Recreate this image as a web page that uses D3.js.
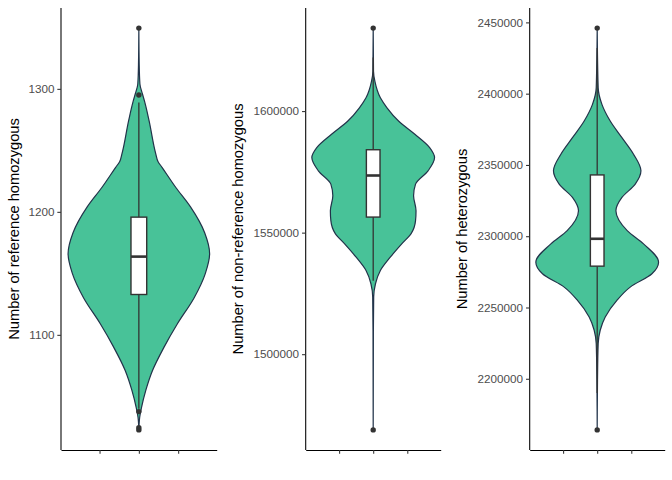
<!DOCTYPE html>
<html>
<head>
<meta charset="utf-8">
<script src="https://cdn.jsdelivr.net/npm/d3@7"></script>
<style>
  html, body { margin: 0; padding: 0; background: #ffffff; }
  svg { display: block; }
</style>
</head>
<body>
<svg id="chart" width="672" height="480"></svg>
<script>
// ---------------- data ----------------
const titles = ["Number of reference homozygous", "Number of non-reference homozygous", "Number of heterozygous"];

const refTicks = [1100, 1200, 1300];
const nonrefTicks = [1500000, 1550000, 1600000];
const hetTicks = [2200000, 2250000, 2300000, 2350000, 2400000, 2450000];

const xTicks = [-0.25, 0, 0.25];

// violin outline: value and relative density (1 = widest)
const refProfileValues = [1022.7, 1033, 1041, 1055, 1071, 1090, 1109, 1130, 1150, 1166, 1183, 1204, 1220, 1236, 1241, 1247, 1274, 1290, 1296, 1304, 1320, 1349.4];
const refProfileDensity = [0, 0.012, 0.038, 0.099, 0.193, 0.356, 0.545, 0.78, 0.94, 1.0, 0.93, 0.73, 0.52, 0.33, 0.27, 0.24, 0.145, 0.08, 0.05, 0.015, 0.005, 0];

const nonrefProfileValues = [1468852, 1509836, 1523484, 1528975, 1534426, 1539877, 1545369, 1549590, 1554918, 1559016, 1565164, 1569959, 1575410, 1580861, 1584959, 1590451, 1595902, 1601352, 1605451, 1612295, 1616393, 1634139];
const nonrefProfileDensity = [0, 0.003, 0.008, 0.037, 0.117, 0.278, 0.465, 0.618, 0.690, 0.698, 0.658, 0.690, 0.894, 1.0, 0.920, 0.679, 0.413, 0.225, 0.117, 0.027, 0.005, 0];

const hetProfileValues = [2164126, 2199077, 2224727, 2234023, 2243318, 2254990, 2264286, 2273651, 2281759, 2294618, 2303914, 2317892, 2327188, 2336553, 2345848, 2357520, 2369122, 2380794, 2392466, 2404068, 2446002];
const hetProfileDensity = [0, 0.005, 0.016, 0.049, 0.131, 0.321, 0.538, 0.892, 1.0, 0.755, 0.489, 0.305, 0.403, 0.620, 0.713, 0.592, 0.403, 0.212, 0.077, 0.016, 0];

// box statistics: [lower whisker, Q1, median, Q3, upper whisker]
const refBox = [1040, 1132.8, 1163.6, 1195.7, 1289];
const nonrefBox = [1530200, 1556400, 1573500, 1584100, 1622000];
const hetBox = [2190000, 2279000, 2298200, 2343000, 2432000];

const refOutliers = [1022.7, 1024.5, 1037.6, 1295, 1349.4];
const nonrefOutliers = [1468852, 1634139];
const hetOutliers = [2164126, 2446002];

// ---------------- drawing ----------------
const panels = [
  { title: titles[0], ticks: refTicks, values: refProfileValues, dens: refProfileDensity, box: refBox, out: refOutliers, axisX: 61 },
  { title: titles[1], ticks: nonrefTicks, values: nonrefProfileValues, dens: nonrefProfileDensity, box: nonrefBox, out: nonrefOutliers, axisX: 81.7 },
  { title: titles[2], ticks: hetTicks, values: hetProfileValues, dens: hetProfileDensity, box: hetBox, out: hetOutliers, axisX: 81.7 }
];

const svg = d3.select("#chart");
const panelW = 224;
const plotTop = 8, plotBottom = 450;
const fontFamily = "'Liberation Sans', Arial, Helvetica, sans-serif";
const fillCol = "#48c298";
const lineCol = "#22334a";

panels.forEach((p, i) => {
  const g = svg.append("g").attr("transform", `translate(${i * panelW},0)`);
  const left = p.axisX, right = panelW - 7.3;

  const vMin = d3.min(p.values), vMax = d3.max(p.values);
  const span = vMax - vMin;
  const y = d3.scaleLinear().domain([vMin - 0.05 * span, vMax + 0.05 * span]).range([plotBottom, plotTop]);
  const x = d3.scaleLinear().domain([-0.495, 0.495]).range([left, right]);

  const profile = p.values.map((v, k) => ({ v, d: p.dens[k] }));

  // violin
  const area = d3.area()
    .y(d => y(d.v))
    .x0(d => x(-0.45 * d.d))
    .x1(d => x(0.45 * d.d))
    .curve(d3.curveMonotoneY);
  g.append("path")
    .datum(profile)
    .attr("d", area)
    .attr("fill", fillCol)
    .attr("stroke", lineCol)
    .attr("stroke-width", 1.2)
    .attr("stroke-linejoin", "round");

  // whiskers
  const [wLo, q1, med, q3, wHi] = p.box;
  g.append("line").attr("x1", x(0)).attr("x2", x(0)).attr("y1", y(q1)).attr("y2", y(wLo))
    .attr("stroke", "#333333").attr("stroke-width", 1.3);
  g.append("line").attr("x1", x(0)).attr("x2", x(0)).attr("y1", y(q3)).attr("y2", y(wHi))
    .attr("stroke", "#333333").attr("stroke-width", 1.3);
  // box
  g.append("rect")
    .attr("x", x(-0.05)).attr("width", x(0.05) - x(-0.05))
    .attr("y", y(q3)).attr("height", y(q1) - y(q3))
    .attr("fill", "#ffffff").attr("stroke", "#333333").attr("stroke-width", 1.4);
  g.append("line").attr("x1", x(-0.05)).attr("x2", x(0.05)).attr("y1", y(med)).attr("y2", y(med))
    .attr("stroke", "#333333").attr("stroke-width", 2.6);
  // outliers
  g.selectAll("circle.out").data(p.out).join("circle")
    .attr("class", "out")
    .attr("cx", x(0)).attr("cy", d => y(d)).attr("r", 2.7)
    .attr("fill", "#333333");

  // axes
  const yAxis = d3.axisLeft(y).tickValues(p.ticks).tickFormat(d3.format("d"))
    .tickSize(3.67).tickPadding(2.93).tickSizeOuter(0);
  const ya = g.append("g").attr("transform", `translate(${left},0)`).call(yAxis);
  ya.select(".domain").attr("stroke", "#000000").attr("stroke-width", 1.07)
    .attr("d", `M0,${plotTop}V${plotBottom}`);
  ya.selectAll(".tick line").attr("stroke", "#333333").attr("stroke-width", 1.07);
  ya.selectAll(".tick text").attr("fill", "#4d4d4d").style("font-size", "11.7px").style("font-family", fontFamily);

  const xAxis = d3.axisBottom(x).tickValues(xTicks).tickFormat("").tickSize(3.67).tickSizeOuter(0);
  const xa = g.append("g").attr("transform", `translate(0,${plotBottom})`).call(xAxis);
  xa.select(".domain").attr("stroke", "#000000").attr("stroke-width", 1.07);
  xa.selectAll(".tick line").attr("stroke", "#333333").attr("stroke-width", 1.07);

  // axis title
  g.append("text")
    .attr("transform", `translate(18.7,${(plotTop + plotBottom) / 2}) rotate(-90)`)
    .attr("text-anchor", "middle")
    .style("font-size", "14.67px")
    .style("font-family", fontFamily)
    .attr("fill", "#000000")
    .text(p.title);
});
</script>
</body>
</html>
